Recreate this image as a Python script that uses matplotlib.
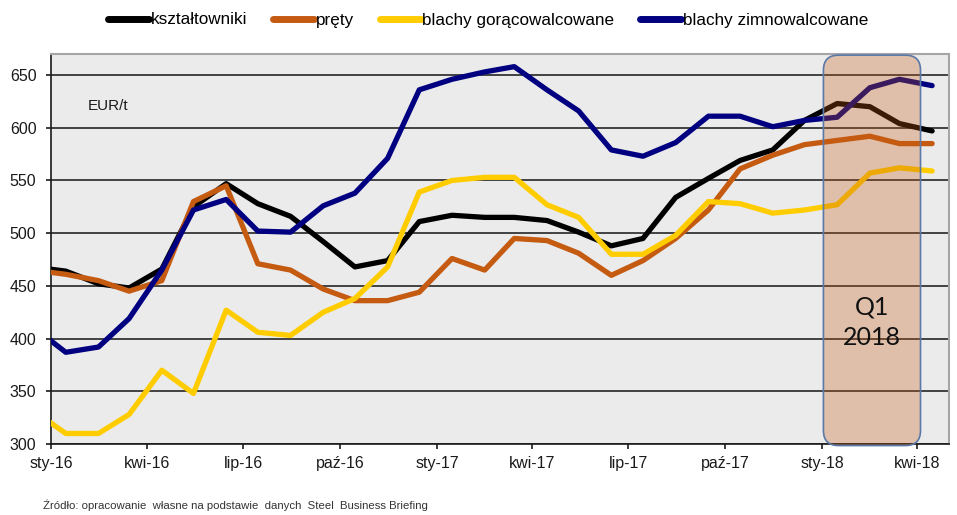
import numpy as np
import pandas as pd
import matplotlib
matplotlib.use('Agg')
import matplotlib.pyplot as plt
import matplotlib.dates as mdates
from matplotlib.patches import FancyBboxPatch
from matplotlib.transforms import IdentityTransform

plt.rcParams['font.family'] = ['Liberation Sans', 'DejaVu Sans']

# monthly prices, EUR/t (mid-month points, Dec 2015 .. Apr 2018)
months = pd.date_range('2015-12-01', '2018-04-01', freq='MS') + pd.Timedelta(days=14)

ksztaltowniki = [468, 464, 452, 448, 466, 525, 547, 528, 516, 492, 468, 474, 511, 517,
                 515, 515, 512, 501, 488, 495, 534, 552, 569, 579, 607, 623, 620, 604, 597]
prety = [465, 461, 455, 445, 455, 530, 545, 471, 465, 447, 436, 436, 444, 476,
         465, 495, 493, 481, 460, 474, 495, 522, 561, 574, 584, 588, 592, 585, 585]
goracowalcowane = [332, 310, 310, 328, 370, 348, 427, 406, 403, 425, 438, 468, 539, 550,
                   553, 553, 527, 515, 480, 480, 498, 530, 528, 519, 522, 527, 557, 562, 559]
zimnowalcowane = [411, 387, 392, 419, 465, 522, 532, 502, 501, 526, 538, 571, 636, 646,
                  653, 658, 636, 616, 579, 573, 586, 611, 611, 601, 607, 610, 638, 646, 640]

series_names = ['kształtowniki', 'pręty', 'blachy gorącowalcowane', 'blachy zimnowalcowane']
series_colors = ['#000000', '#C55A11', '#FFCC00', '#000080']

tick_dates = pd.date_range('2016-01-01', '2018-04-01', freq='QS')
tick_labels = ['sty-16', 'kwi-16', 'lip-16', 'paź-16', 'sty-17', 'kwi-17',
               'lip-17', 'paź-17', 'sty-18', 'kwi-18']
q1_start = pd.Timestamp('2018-01-02')
q1_end = pd.Timestamp('2018-04-04')


def main():

    fig = plt.figure(figsize=(9.57, 5.15), dpi=100)
    ax = fig.add_axes([51/957, 71/515, 898/957, 390/515])
    ax.set_facecolor('#EBEBEB')

    data = [ksztaltowniki, prety, goracowalcowane, zimnowalcowane]
    for vals, name, col in zip(data, series_names, series_colors):
        ax.plot(months, vals, color=col, lw=3.8, label=name, zorder=3,
                solid_joinstyle='round', solid_capstyle='round')

    ax.set_xlim(pd.Timestamp('2016-01-01'), pd.Timestamp('2018-05-01'))
    ax.set_ylim(300, 670)
    ax.set_yticks(np.arange(300, 651, 50))
    ax.set_xticks(tick_dates)
    ax.set_xticklabels(tick_labels)

    ax.grid(axis='y', color='#262626', lw=1.2, zorder=1)
    ax.set_axisbelow(True)
    ax.tick_params(axis='both', labelsize=11.5, colors='#1a1a1a', width=1.2, length=3.5)
    ax.tick_params(axis='y', pad=7)
    ax.tick_params(axis='x', pad=5)
    for s in ['top', 'right']:
        ax.spines[s].set_color('#A6A6A6')
        ax.spines[s].set_linewidth(1.5)
    for s in ['left', 'bottom']:
        ax.spines[s].set_color('#1a1a1a')
        ax.spines[s].set_linewidth(1.2)

    ax.text(0.041, 0.867, 'EUR/t', transform=ax.transAxes, fontsize=11,
            ha='left', va='center', color='#1a1a1a')

    # Q1 2018 highlight box (rounded, drawn in pixels)
    tr = ax.get_xaxis_transform()
    x0, y0 = tr.transform((mdates.date2num(q1_start), -0.004))
    x1, y1 = tr.transform((mdates.date2num(q1_end), 0.997))
    box = FancyBboxPatch((x0, y0), x1 - x0, y1 - y0,
                         boxstyle='round,pad=0,rounding_size=15',
                         transform=IdentityTransform(), facecolor='#C55A11',
                         alpha=0.3, edgecolor='none', zorder=4, clip_on=False)
    edge = FancyBboxPatch((x0, y0), x1 - x0, y1 - y0,
                          boxstyle='round,pad=0,rounding_size=15',
                          transform=IdentityTransform(), facecolor='none',
                          edgecolor='#5A78A8', lw=1.2, zorder=5, clip_on=False)
    ax.add_artist(box)
    ax.add_artist(edge)

    xm = mdates.date2num(q1_start) + (mdates.date2num(q1_end) - mdates.date2num(q1_start)) / 2
    ax.text(xm, 0.351, 'Q1', transform=tr, ha='center', va='center',
            fontsize=18, family=['Lato', 'DejaVu Sans'], color='#111111', zorder=6)
    ax.text(xm, 0.272, '2018', transform=tr, ha='center', va='center',
            fontsize=18, family=['Lato', 'DejaVu Sans'], color='#111111', zorder=6)

    leg = fig.legend(loc='center', bbox_to_anchor=(0.51, 1 - 20/515), ncol=4,
                     frameon=False, fontsize=12.3, handlelength=2.4,
                     handletextpad=0.1, columnspacing=1.5)
    for h in leg.get_lines():
        h.set_linewidth(5)
        h.set_solid_capstyle('round')

    fig.text(43/957, 1 - 505/515, 'Źródło: opracowanie  własne na podstawie  danych  Steel  Business Briefing',
             fontsize=8.2, color='#333333', ha='left', va='center')

    plt.savefig('out.png', dpi=100)
    plt.close()


if __name__ == "__main__":
    main()
